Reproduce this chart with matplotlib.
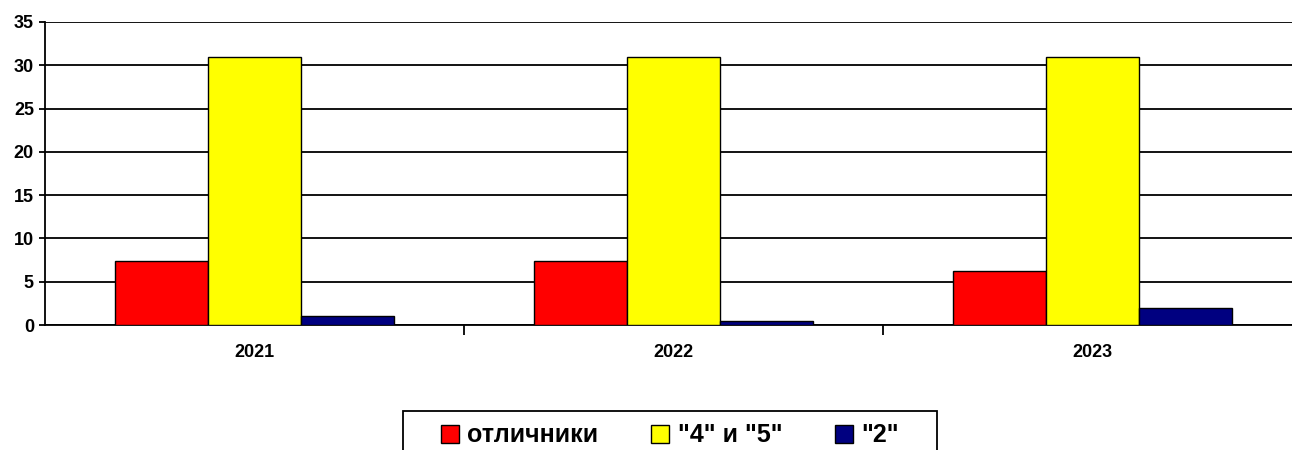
import numpy as np
import matplotlib.pyplot as plt
from matplotlib.patches import Rectangle

plt.rcParams['font.family'] = ['Liberation Sans', 'DejaVu Sans']
plt.rcParams['font.weight'] = 'bold'

years = ["2021", "2022", "2023"]
series = ['отличники', '"4" и "5"', '"2"']
excellent = [7.4, 7.4, 6.2]
good = [31.0, 30.9, 31.0]
poor = [1.0, 0.5, 2.0]
colors = ['#ff0000', '#ffff00', '#000080']

fig = plt.figure(figsize=(12.92, 4.5), dpi=100)
ax = fig.add_axes([45 / 1292, 1 - 325 / 450, 1 - 45 / 1292, (325 - 22) / 450])

x = np.arange(len(years))
w = 0.222
for i, (vals, c, lab) in enumerate(zip([excellent, good, poor], colors, series)):
    ax.bar(x + (i - 1) * w, vals, w, color=c, edgecolor='black', linewidth=1,
           label=lab, zorder=3)

ax.set_ylim(0, 35)
ax.set_yticks(range(0, 36, 5))
ax.set_xlim(-0.5, -0.5 + (1292 - 45) / 419)
ax.yaxis.grid(True, color='black', linewidth=1.3, zorder=0)
ax.set_axisbelow(True)

for s in ['top', 'right']:
    ax.spines[s].set_visible(False)
ax.spines['left'].set_linewidth(1.3)
ax.spines['bottom'].set_linewidth(1.3)

ax.set_xticks([0.5, 1.5])
ax.set_xticklabels([])
ax.set_xticks(x, minor=True)
ax.set_xticklabels(years, minor=True, fontsize=13, fontweight='bold')
ax.tick_params(axis='x', which='major', length=7, width=1.3, direction='out')
ax.tick_params(axis='x', which='minor', length=0, pad=14)
ax.tick_params(axis='y', length=4, width=1.3, labelsize=13, pad=4)
for t in ax.get_yticklabels():
    t.set_fontweight('bold')

# legend box, cut off at the bottom edge like in the original
fig.patches.append(Rectangle((403 / 1292, -0.05), (937 - 403) / 1292,
                             1 - 411 / 450 + 0.05, transform=fig.transFigure,
                             facecolor='white', edgecolor='black', linewidth=1.3))
leg = fig.legend(loc='upper center', bbox_to_anchor=(670 / 1292, 1 - 411 / 450),
                 ncol=3, frameon=False, prop={'size': 18, 'weight': 'bold'},
                 handlelength=0.72, handleheight=0.72, handletextpad=0.35,
                 columnspacing=2.1, borderpad=0.5, borderaxespad=0)

fig.savefig('out.png', dpi=100)
